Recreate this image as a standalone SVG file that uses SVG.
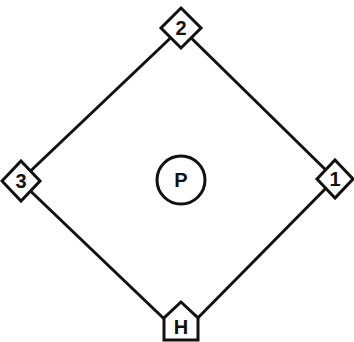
<svg xmlns="http://www.w3.org/2000/svg" width="354" height="342" viewBox="0 0 354 342">
<style>
.ln{stroke:#111;stroke-width:3;fill:none}
.b{fill:#fff;stroke:#111;stroke-width:3;stroke-linejoin:miter}
.t{font-family:"Liberation Sans",Arial,sans-serif;font-weight:bold;font-size:20px;fill:#111;text-anchor:middle}
</style>
<rect width="354" height="342" fill="#fff"/>
<g id="connectors">
<line class="ln" x1="181" y1="28" x2="20" y2="181"/>
<line class="ln" x1="181" y1="28" x2="335" y2="179"/>
<line class="ln" x1="20" y1="181" x2="181" y2="335"/>
<line class="ln" x1="335" y1="179" x2="181" y2="335"/>
</g>
<g id="base2">
<polygon class="b" points="181,8 201,28 181,48 161,28"/>
<text class="t" x="181" y="35">2</text>
</g>
<g id="base3">
<polygon class="b" points="21,161 40,181 21,201 2,181"/>
<text class="t" x="21" y="188">3</text>
</g>
<g id="base1">
<polygon class="b" points="335,160 353,179 335,198 317,179"/>
<text class="t" x="335" y="186">1</text>
</g>
<g id="home">
<polygon class="b" points="181,302 198,318 198,340 164,340 164,318"/>
<text class="t" x="181" y="334">H</text>
</g>
<g id="pitcher">
<circle class="b" cx="181" cy="180" r="24"/>
<text class="t" x="181" y="187">P</text>
</g>
</svg>
